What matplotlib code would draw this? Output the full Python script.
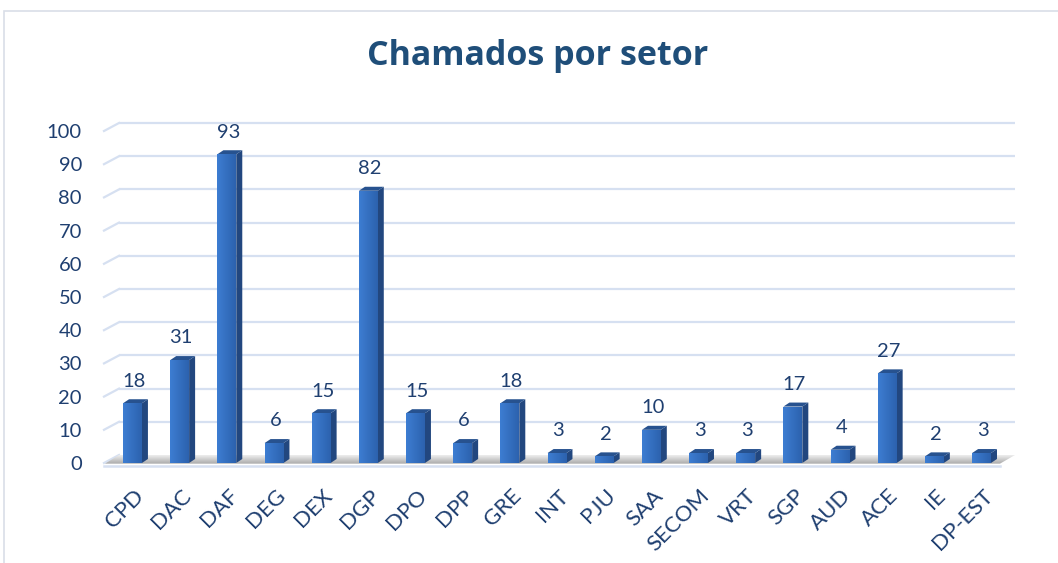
import matplotlib
matplotlib.use('Agg')
import matplotlib.pyplot as plt
import matplotlib.transforms as mtransforms
from matplotlib.patches import Polygon, Rectangle
import numpy as np

# ---------------- data ----------------
categories = ['CPD', 'DAC', 'DAF', 'DEG', 'DEX', 'DGP', 'DPO', 'DPP', 'GRE', 'INT',
              'PJU', 'SAA', 'SECOM', 'VRT', 'SGP', 'AUD', 'ACE', 'IE', 'DP-EST']
values = [18, 31, 93, 6, 15, 82, 15, 6, 18, 3, 2, 10, 3, 3, 17, 4, 27, 2, 3]
y_ticks = [0, 10, 20, 30, 40, 50, 60, 70, 80, 90, 100]
title = 'Chamados por setor'

# ---------------- style ----------------
plt.rcParams['font.family'] = ['Lato', 'DejaVu Sans']
TXT = '#1F3F70'
GRID = '#D6E0F1'
FRONT_L, FRONT_R = '#3D7DD2', '#2C62AE'
SIDE = '#22477F'
TOP = '#27528F'

W, H = 1058, 563
fig = plt.figure(figsize=(W / 100, H / 100), dpi=100)
fig.patch.set_facecolor('white')

# chart frame
fig.add_artist(Rectangle((4 / W, 0 - 0.01), (W + 10) / W, 1 - 11 / H + 0.01,
                         transform=fig.transFigure, fill=False,
                         edgecolor='#D9DEE8', linewidth=1.2))

# pixel geometry of the plot
x0px, xstep = 132.5, 47.17
y0px, ystep = 463.0, 3.32
ax_l, ax_r, ax_t, ax_b = 100, 1040, 100, 480
ax = fig.add_axes([ax_l / W, 1 - ax_b / H, (ax_r - ax_l) / W, (ax_b - ax_t) / H])
ax.patch.set_alpha(0)
xlim = ((ax_l - x0px) / xstep, (ax_r - x0px) / xstep)
ylim = ((y0px - ax_b) / ystep, (y0px - ax_t) / ystep)

# depth offsets (data units)
bdx, bdy = 15 / xstep, 8 / ystep      # back wall
sdx, sdy = 6 / xstep, 4 / ystep       # bar depth
xl = (104 - x0px) / xstep
xr = (1015 - x0px) / xstep
xfr = (1000 - x0px) / xstep

# back wall gridlines
for v in y_ticks:
    if v > 0:
        ax.plot([xl + bdx, xr], [v + bdy, v + bdy], color=GRID, lw=1.6, zorder=1,
                solid_capstyle='butt')
    ax.plot([xl, xl + bdx], [v, v + bdy], color=GRID, lw=1.6, zorder=1)

# floor shadow
floor = Polygon([(xl + 0.02, -0.2), (xfr, -0.2), (xr, bdy), (xl + bdx, bdy)],
                closed=True, facecolor='none', edgecolor='none', zorder=1.5)
ax.add_patch(floor)
grad = np.linspace(0, 1, 64).reshape(-1, 1)
fim = ax.imshow(grad, extent=(xl, xr, -0.2, bdy), origin='lower', aspect='auto',
                cmap=matplotlib.colors.LinearSegmentedColormap.from_list(
                    'fl', ['#A9A9A9', '#EEEEEE']), zorder=1.5, interpolation='bilinear')
fim.set_clip_path(floor)
# front floor edge
ax.plot([xl, xfr], [-1.0, -1.0], color=GRID, lw=1.8, zorder=1.6)

# bars
xs = np.arange(len(categories))
w = 0.40
bars = ax.bar(xs, values, width=w, color=FRONT_R, edgecolor='none', zorder=3)
bcmap = matplotlib.colors.LinearSegmentedColormap.from_list('b', [FRONT_L, FRONT_R])
hgrad = np.linspace(0, 1, 32).reshape(1, -1)
for x, v, b in zip(xs, values, bars):
    im = ax.imshow(hgrad, extent=(x - w / 2, x + w / 2, 0, v), aspect='auto',
                   cmap=bcmap, zorder=3.1, interpolation='bilinear')
    im.set_clip_path(b)
    side = Polygon([(x + w / 2, 0), (x + w / 2 + sdx, sdy), (x + w / 2 + sdx, v + sdy),
                    (x + w / 2, v)], closed=True, facecolor=SIDE, edgecolor='none', zorder=3)
    top = Polygon([(x - w / 2, v), (x + w / 2, v), (x + w / 2 + sdx, v + sdy),
                   (x - w / 2 + sdx, v + sdy)], closed=True, facecolor=TOP,
                  edgecolor='none', zorder=3)
    ax.add_patch(side)
    ax.add_patch(top)
    ax.annotate(str(v), (x, v), xytext=(1, 12), textcoords='offset points',
                ha='center', va='baseline', fontsize=14.5, color=TXT, zorder=4)

# axes / ticks
ax.set_xlim(*xlim)
ax.set_ylim(*ylim)
for s in ax.spines.values():
    s.set_visible(False)
ax.set_yticks(y_ticks)
ax.set_yticklabels([str(t) for t in y_ticks])
ax.tick_params(axis='y', length=0, pad=13, labelsize=14.5, labelcolor=TXT)
ax.set_xticks(xs)
ax.set_xticklabels(categories, rotation=45, ha='right', rotation_mode='anchor')
ax.tick_params(axis='x', length=0, pad=4, labelsize=16, labelcolor=TXT)
off = mtransforms.ScaledTranslation(1 / 100, 0, fig.dpi_scale_trans)
for lab in ax.get_xticklabels():
    lab.set_transform(lab.get_transform() + off)

fig.text(538 / W, 1 - 65 / H, title, ha='center', va='baseline', fontsize=24.5,
         fontweight='bold', color='#1F4E79', family=['Open Sans', 'DejaVu Sans'])

fig.savefig('out.png', dpi=100)
